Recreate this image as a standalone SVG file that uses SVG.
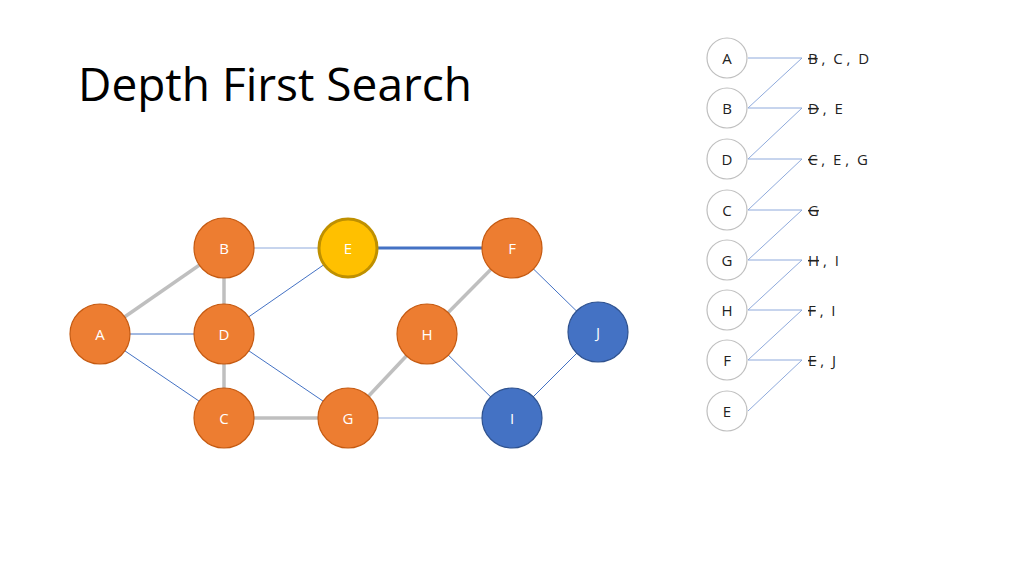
<svg xmlns="http://www.w3.org/2000/svg" width="1024" height="575" viewBox="0 0 1024 575">
<style>
text{font-family:"Open Sans","Noto Sans",sans-serif;}
.n{stroke-width:1.2}
.o{fill:#ed7d31;stroke:#c55a11}
.b{fill:#4472c4;stroke:#2f528f}
.w{fill:#fff;stroke:#bfbfbf;stroke-width:1.2}
.lbl{font-size:15px;fill:#fff;text-anchor:middle;dominant-baseline:central}
.rl{font-size:15px;fill:#222;text-anchor:middle;dominant-baseline:central}
.lst{font-size:15px;fill:#222;dominant-baseline:central}
.g{stroke:#bfbfbf;stroke-width:3.5}
.t{stroke:#4472c4;stroke-width:1}
.tl{stroke:#8faadc;stroke-width:1}
.k{stroke:#4472c4;stroke-width:3}
.s{text-decoration:line-through}
</style>
<rect width="1024" height="575" fill="#fff"/>
<text x="78" y="101" font-size="46" fill="#000">Depth First Search</text>
<g id="connectors">
<line class="g" x1="100" y1="334" x2="224" y2="248"/>
<line class="t" x1="100" y1="334" x2="224" y2="334"/>
<line class="t" x1="100" y1="334" x2="224" y2="418"/>
<line class="g" x1="224" y1="248" x2="224" y2="334"/>
<line class="g" x1="224" y1="334" x2="224" y2="418"/>
<line class="tl" x1="224" y1="248" x2="348" y2="248"/>
<line class="t" x1="224" y1="334" x2="348" y2="248"/>
<line class="t" x1="224" y1="334" x2="348" y2="418"/>
<line class="g" x1="224" y1="418" x2="348" y2="418"/>
<line class="g" x1="348" y1="418" x2="427" y2="334"/>
<line class="g" x1="427" y1="334" x2="512" y2="248"/>
<line class="k" x1="348" y1="248" x2="512" y2="248"/>
<line class="t" x1="512" y1="248" x2="598" y2="332"/>
<line class="t" x1="427" y1="334" x2="512" y2="418"/>
<line class="tl" x1="348" y1="418" x2="512" y2="418"/>
<line class="t" x1="512" y1="418" x2="598" y2="332"/>
<g class="tl">
<polyline fill="none" points="748,58 802,58 748,108 802,108 748,159 802,159 748,210 802,210 748,260 802,260 748,310 802,310 748,360 802,360 748,411"/>
</g>
</g>
<g id="A"><circle class="n o" cx="100" cy="334" r="30"/><text class="lbl" x="100" y="334">A</text></g>
<g id="B"><circle class="n o" cx="224" cy="248" r="30"/><text class="lbl" x="224" y="248">B</text></g>
<g id="D"><circle class="n o" cx="224" cy="334" r="30"/><text class="lbl" x="224" y="334">D</text></g>
<g id="C"><circle class="n o" cx="224" cy="418" r="30"/><text class="lbl" x="224" y="418">C</text></g>
<g id="E"><circle cx="348" cy="248" r="29" fill="#ffc000" stroke="#bf9000" stroke-width="3"/><text class="lbl" x="348" y="248">E</text></g>
<g id="F"><circle class="n o" cx="512" cy="248" r="30"/><text class="lbl" x="512" y="248">F</text></g>
<g id="H"><circle class="n o" cx="427" cy="334" r="30"/><text class="lbl" x="427" y="334">H</text></g>
<g id="G"><circle class="n o" cx="348" cy="418" r="30"/><text class="lbl" x="348" y="418">G</text></g>
<g id="I"><circle class="n b" cx="512" cy="418" r="30"/><text class="lbl" x="512" y="418">I</text></g>
<g id="J"><circle class="n b" cx="598" cy="332" r="30"/><text class="lbl" x="598" y="332">J</text></g>
<g id="list">
<g id="rA"><circle class="w" cx="727" cy="58" r="20"/><text class="rl" x="727" y="58">A</text></g>
<g id="rB"><circle class="w" cx="727" cy="108" r="20"/><text class="rl" x="727" y="108">B</text></g>
<g id="rD"><circle class="w" cx="727" cy="159" r="20"/><text class="rl" x="727" y="159">D</text></g>
<g id="rC"><circle class="w" cx="727" cy="210" r="20"/><text class="rl" x="727" y="210">C</text></g>
<g id="rG"><circle class="w" cx="727" cy="260" r="20"/><text class="rl" x="727" y="260">G</text></g>
<g id="rH"><circle class="w" cx="727" cy="310" r="20"/><text class="rl" x="727" y="310">H</text></g>
<g id="rF"><circle class="w" cx="727" cy="360" r="20"/><text class="rl" x="727" y="360">F</text></g>
<g id="rE"><circle class="w" cx="727" cy="411" r="20"/><text class="rl" x="727" y="411">E</text></g>
<text class="lst" x="808" y="58" xml:space="preserve"><tspan class="s">B</tspan> ,  C ,  D</text>
<text class="lst" x="808" y="108" xml:space="preserve"><tspan class="s">D</tspan> ,  E</text>
<text class="lst" x="808" y="159" xml:space="preserve"><tspan class="s">C</tspan> ,  E ,  G</text>
<text class="lst" x="808" y="210"><tspan class="s">G</tspan></text>
<text class="lst" x="808" y="260" xml:space="preserve"><tspan class="s">H</tspan> ,  I</text>
<text class="lst" x="808" y="310" xml:space="preserve"><tspan class="s">F</tspan> ,  I</text>
<text class="lst" x="808" y="360" xml:space="preserve"><tspan class="s">E</tspan> ,  J</text>
</g>
</svg>
